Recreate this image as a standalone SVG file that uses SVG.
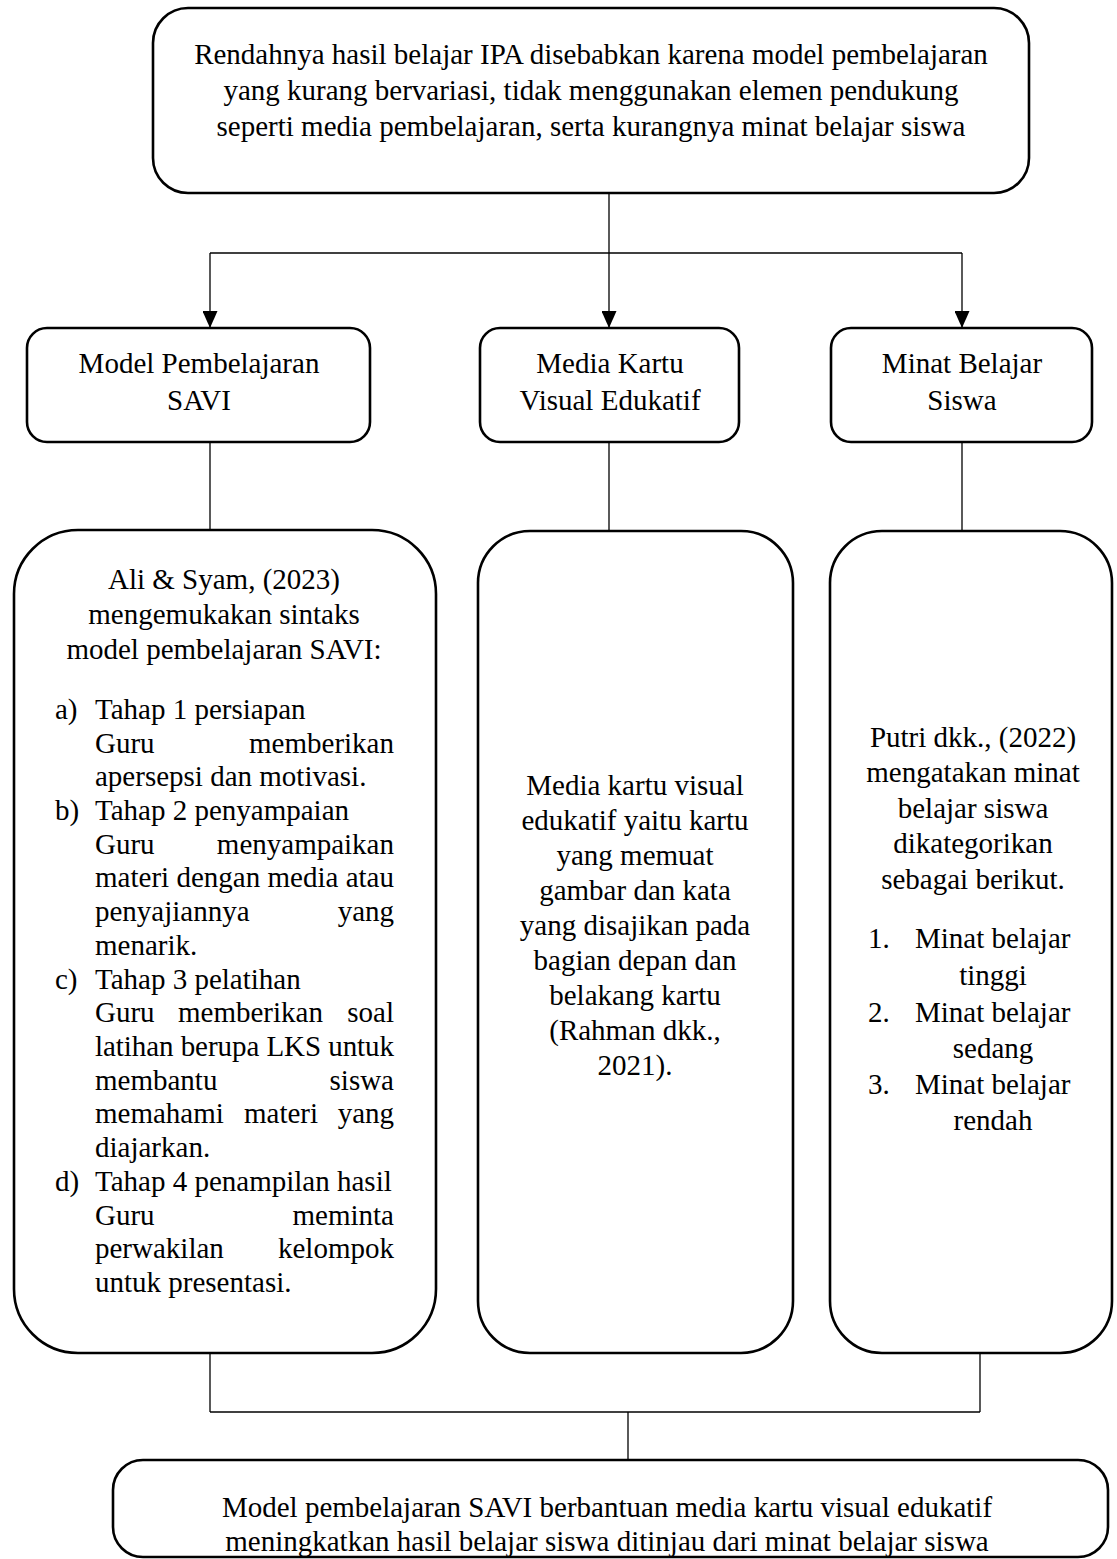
<svg xmlns="http://www.w3.org/2000/svg" width="1117" height="1559" viewBox="0 0 1117 1559">
<style>
.box{fill:#fff;stroke:#000;stroke-width:2.6}
.ln{fill:none;stroke:#000;stroke-width:1.3}
text{font-family:"Liberation Serif","Times New Roman",serif;font-size:29px;fill:#000}
.c{text-anchor:middle}
.e{text-anchor:end}
</style>
<defs>
<marker id="arr" markerWidth="17" markerHeight="15" refX="17" refY="7.5" orient="auto" markerUnits="userSpaceOnUse">
<path d="M0,0 L17,7.5 L0,15 Z" fill="#000"/>
</marker>
</defs>
<rect width="1117" height="1559" fill="#fff"/>

<g id="connectors">
<line class="ln" x1="609" y1="193" x2="609" y2="253"/>
<line class="ln" x1="210" y1="253" x2="962" y2="253"/>
<line class="ln" x1="210" y1="253" x2="210" y2="328" marker-end="url(#arr)"/>
<line class="ln" x1="609" y1="253" x2="609" y2="328" marker-end="url(#arr)"/>
<line class="ln" x1="962" y1="253" x2="962" y2="328" marker-end="url(#arr)"/>
<line class="ln" x1="210" y1="442" x2="210" y2="530"/>
<line class="ln" x1="609" y1="442" x2="609" y2="531"/>
<line class="ln" x1="962" y1="442" x2="962" y2="531"/>
<line class="ln" x1="210" y1="1353" x2="210" y2="1412"/>
<line class="ln" x1="980" y1="1353" x2="980" y2="1412"/>
<line class="ln" x1="210" y1="1412" x2="980" y2="1412"/>
<line class="ln" x1="628" y1="1412" x2="628" y2="1460"/>
</g>

<g id="top">
<rect class="box" x="153" y="8" width="876" height="185" rx="35"/>
<text class="c" x="591" y="64">Rendahnya hasil belajar IPA disebabkan karena model pembelajaran</text>
<text class="c" x="591" y="100">yang kurang bervariasi, tidak menggunakan elemen pendukung</text>
<text class="c" x="591" y="136">seperti media pembelajaran, serta kurangnya minat belajar siswa</text>
</g>

<g id="savi">
<rect class="box" x="27" y="328" width="343" height="114" rx="20"/>
<text class="c" x="199" y="373">Model Pembelajaran</text>
<text class="c" x="199" y="410">SAVI</text>
</g>

<g id="media">
<rect class="box" x="480" y="328" width="259" height="114" rx="20"/>
<text class="c" x="610" y="373">Media Kartu</text>
<text class="c" x="610" y="410">Visual Edukatif</text>
</g>

<g id="minat">
<rect class="box" x="831" y="328" width="261" height="114" rx="20"/>
<text class="c" x="962" y="373">Minat Belajar</text>
<text class="c" x="962" y="410">Siswa</text>
</g>

<g id="savi-detail">
<rect class="box" x="14" y="530" width="422" height="823" rx="64"/>
<text class="c" x="224" y="589">Ali &amp; Syam, (2023)</text>
<text class="c" x="224" y="624">mengemukakan sintaks</text>
<text class="c" x="224" y="659">model pembelajaran SAVI:</text>
<text x="55" y="719">a)</text>
<text x="95" y="719">Tahap 1 persiapan</text>
<text x="95" y="753">Guru</text><text class="e" x="394" y="753">memberikan</text>
<text x="95" y="786">apersepsi dan motivasi.</text>
<text x="55" y="820">b)</text>
<text x="95" y="820">Tahap 2 penyampaian</text>
<text x="95" y="854">Guru</text><text class="e" x="394" y="854">menyampaikan</text>
<text x="95" y="887" textLength="299" lengthAdjust="spacing">materi dengan media atau</text>
<text x="95" y="921">penyajiannya</text><text class="e" x="394" y="921">yang</text>
<text x="95" y="955">menarik.</text>
<text x="55" y="989">c)</text>
<text x="95" y="989">Tahap 3 pelatihan</text>
<text x="95" y="1022">Guru</text><text x="178" y="1022">memberikan</text><text class="e" x="394" y="1022">soal</text>
<text x="95" y="1056" textLength="299" lengthAdjust="spacing">latihan berupa LKS untuk</text>
<text x="95" y="1090">membantu</text><text class="e" x="394" y="1090">siswa</text>
<text x="95" y="1123">memahami</text><text x="244" y="1123">materi</text><text class="e" x="394" y="1123">yang</text>
<text x="95" y="1157">diajarkan.</text>
<text x="55" y="1191">d)</text>
<text x="95" y="1191">Tahap 4 penampilan hasil</text>
<text x="95" y="1225">Guru</text><text class="e" x="394" y="1225">meminta</text>
<text x="95" y="1258">perwakilan</text><text class="e" x="394" y="1258">kelompok</text>
<text x="95" y="1292">untuk presentasi.</text>
</g>

<g id="media-detail">
<rect class="box" x="478" y="531" width="315" height="822" rx="52"/>
<text class="c" x="635" y="795">Media kartu visual</text>
<text class="c" x="635" y="830">edukatif yaitu kartu</text>
<text class="c" x="635" y="865">yang memuat</text>
<text class="c" x="635" y="900">gambar dan kata</text>
<text class="c" x="635" y="935">yang disajikan pada</text>
<text class="c" x="635" y="970">bagian depan dan</text>
<text class="c" x="635" y="1005">belakang kartu</text>
<text class="c" x="635" y="1040">(Rahman dkk.,</text>
<text class="c" x="635" y="1075">2021).</text>
</g>

<g id="minat-detail">
<rect class="box" x="830" y="531" width="282" height="822" rx="52"/>
<text class="c" x="973" y="747">Putri dkk., (2022)</text>
<text class="c" x="973" y="782">mengatakan minat</text>
<text class="c" x="973" y="818">belajar siswa</text>
<text class="c" x="973" y="853">dikategorikan</text>
<text class="c" x="973" y="889">sebagai berikut.</text>
<text x="868" y="948">1.</text><text x="915" y="948">Minat belajar</text>
<text class="c" x="993" y="985">tinggi</text>
<text x="868" y="1022">2.</text><text x="915" y="1022">Minat belajar</text>
<text class="c" x="993" y="1058">sedang</text>
<text x="868" y="1094">3.</text><text x="915" y="1094">Minat belajar</text>
<text class="c" x="993" y="1130">rendah</text>
</g>

<g id="result">
<rect class="box" x="113" y="1460" width="995" height="97" rx="30"/>
<text class="c" x="607" y="1517">Model pembelajaran SAVI berbantuan media kartu visual edukatif</text>
<text class="c" x="607" y="1551">meningkatkan hasil belajar siswa ditinjau dari minat belajar siswa</text>
</g>
</svg>
